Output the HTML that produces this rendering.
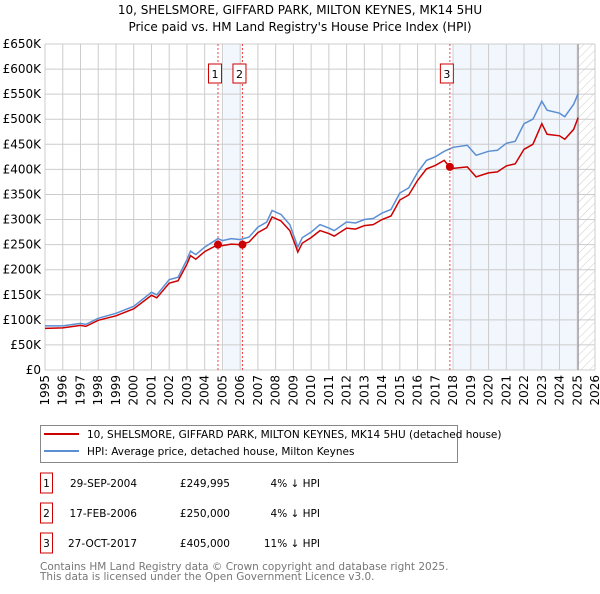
<!DOCTYPE html>
<html><head><meta charset="utf-8"><style>
body{margin:0;background:#fff;font-family:"DejaVu Sans","Liberation Sans",sans-serif;}
svg text{font-family:"DejaVu Sans","Liberation Sans",sans-serif;}
</style></head><body>
<svg id="chart" width="600" height="590" xmlns="http://www.w3.org/2000/svg">
<text x="300" y="14" text-anchor="middle" font-size="12">10, SHELSMORE, GIFFARD PARK, MILTON KEYNES, MK14 5HU</text>
<text x="300" y="31" text-anchor="middle" font-size="12">Price paid vs. HM Land Registry's House Price Index (HPI)</text>
<defs><pattern id="hatch" width="6" height="6" patternUnits="userSpaceOnUse" patternTransform="rotate(45)"><line x1="0" y1="0" x2="0" y2="6" stroke="#ccc" stroke-width="1"/></pattern></defs>
<g id="bg"></g><g id="grid"></g><g id="series"></g><g id="axes"></g>
<g>
<rect x="40.5" y="425.5" width="417" height="37" fill="#fff" stroke="#888"/>
<line x1="44" y1="434" x2="79" y2="434" stroke="#cc0000" stroke-width="2"/>
<text x="87" y="438" font-size="10.5">10, SHELSMORE, GIFFARD PARK, MILTON KEYNES, MK14 5HU (detached house)</text>
<line x1="44" y1="451" x2="79" y2="451" stroke="#5b8fd4" stroke-width="2"/>
<text x="87" y="455" font-size="10.5">HPI: Average price, detached house, Milton Keynes</text>
</g>
<g id="table" font-size="10.5"></g>
<text x="40" y="570" font-size="10.5" fill="#777">Contains HM Land Registry data © Crown copyright and database right 2025.</text>
<text x="40" y="580" font-size="10.5" fill="#777">This data is licensed under the Open Government Licence v3.0.</text>
</svg>
<script>
const hpiYears=[1995,1996,1997,1997.3,1998,1999,2000,2001,2001.3,2002,2002.5,2003,2003.2,2003.5,2004,2004.75,2005,2005.5,2006,2006.5,2007,2007.5,2007.8,2008.3,2008.8,2009.1,2009.25,2009.5,2010,2010.5,2011,2011.3,2012,2012.5,2013,2013.5,2014,2014.5,2015,2015.5,2016,2016.5,2017,2017.5,2018,2018.8,2019.3,2020,2020.5,2021,2021.5,2022,2022.5,2023,2023.3,2024,2024.3,2024.8,2025.05];
const hpiValues=[88000,88000,93000,91000,103000,113000,127000,155000,150000,180000,185000,220000,237000,230000,245000,262000,258000,262000,260000,265000,285000,295000,318000,310000,290000,260000,245000,264000,275000,290000,283000,278000,295000,293000,300000,302000,313000,320000,353000,363000,394000,418000,425000,436000,444000,448000,428000,436000,438000,452000,456000,491000,500000,536000,518000,512000,505000,530000,551000];
const paidYears=[1995,1996,1997,1997.3,1998,1999,2000,2001,2001.3,2002,2002.5,2003,2003.2,2003.5,2004,2004.75,2005,2005.5,2006,2006.5,2007,2007.5,2007.8,2008.3,2008.8,2009.1,2009.25,2009.5,2010,2010.5,2011,2011.3,2012,2012.5,2013,2013.5,2014,2014.5,2015,2015.5,2016,2016.5,2017,2017.5,2017.8,2018,2018.8,2019.3,2020,2020.5,2021,2021.5,2022,2022.5,2023,2023.3,2024,2024.3,2024.8,2025.05];
const paidValues=[83000,84000,89000,87000,99000,108000,122000,149000,144000,173000,178000,211000,228000,221000,236000,250000,248000,251000,250000,255000,274000,284000,305000,297000,278000,250000,235000,253000,264000,278000,272000,267000,283000,281000,288000,290000,300000,307000,339000,349000,378000,401000,408000,418000,405000,402000,405000,385000,393000,395000,407000,411000,440000,450000,491000,470000,467000,460000,480000,503000];
const saleYears=[2004.75,2006.13,2017.82];
const saleValues=[249995,250000,405000];
const saleDates=["29-SEP-2004","17-FEB-2006","27-OCT-2017"];
const salePrices=["£249,995","£250,000","£405,000"];
const saleDiffs=["4% ↓ HPI","4% ↓ HPI","11% ↓ HPI"];
const shadeStarts=[2005.05,2018.05];
const shadeEnds=[2006.13,2025.05];
const yTicks=[0,50000,100000,150000,200000,250000,300000,350000,400000,450000,500000,550000,600000,650000];
const yTickLabels=["£0","£50K","£100K","£150K","£200K","£250K","£300K","£350K","£400K","£450K","£500K","£550K","£600K","£650K"];
const xTicks=[1995,1996,1997,1998,1999,2000,2001,2002,2003,2004,2005,2006,2007,2008,2009,2010,2011,2012,2013,2014,2015,2016,2017,2018,2019,2020,2021,2022,2023,2024,2025,2026];
const dataEnd=2025.05;

const X0=45,X1=595,Y0=370,Y1=44;
const xs=y=>X0+(y-1995)/(2026-1995)*(X1-X0);
const ys=v=>Y0-v/650000*(Y0-Y1);
const NS="http://www.w3.org/2000/svg";
function mk(parent,tag,attrs){const e=document.createElementNS(NS,tag);for(const k in attrs)e.setAttribute(k,attrs[k]);document.getElementById(parent).appendChild(e);return e;}

shadeStarts.forEach((s,i)=>{
 let r=mk('bg','rect',{x:xs(s),y:Y1,width:xs(shadeEnds[i])-xs(s),height:Y0-Y1,fill:'#f2f6fd'});
 
 
});
let r=mk('bg','rect',{x:xs(dataEnd),y:Y1,width:X1-xs(dataEnd),height:Y0-Y1,fill:'url(#hatch)'});



yTicks.forEach((t,i)=>{
 let l=mk('grid','line',{x1:X0,x2:X1,y1:ys(t),y2:ys(t),stroke:'#ccc','stroke-width':1});
 
 
 let tx=mk('axes','text',{x:X0-4,y:ys(t)+4,'text-anchor':'end','font-size':'12'});
 tx.textContent=yTickLabels[i];
 
 
});
xTicks.forEach(t=>{
 let l=mk('grid','line',{x1:xs(t),x2:xs(t),y1:Y1,y2:Y0,stroke:'#ccc','stroke-width':1});
 
 
 let tx=mk('axes','text',{x:xs(t)+4,y:Y0+5,'text-anchor':'end','font-size':'12',transform:`rotate(-90 ${xs(t)+4} ${Y0+5})`});
 tx.textContent=t;
 
 
});
let el=mk('grid','line',{x1:xs(dataEnd),x2:xs(dataEnd),y1:Y1,y2:Y0,stroke:'#999','stroke-width':1.2});



function path(xsArr,vals){return xsArr.map((y,i)=>(i?'L':'M')+xs(y).toFixed(1)+','+ys(vals[i]).toFixed(1)).join('');}
let p=mk('series','path',{d:path(hpiYears,hpiValues),fill:'none',stroke:'#5b8fd4','stroke-width':1.5});


p=mk('series','path',{d:path(paidYears,paidValues),fill:'none',stroke:'#cc0000','stroke-width':1.5});



saleYears.forEach((y,i)=>{
 let v=mk('series','line',{x1:xs(y),x2:xs(y),y1:Y1,y2:Y0,stroke:'#ee4444','stroke-width':1,'stroke-dasharray':'2,2'});
 
 
 let c=mk('series','circle',{cx:xs(y),cy:ys(saleValues[i]),r:4,fill:'#cc0000'});
 
 
 let bx=xs(y)-3;
 let b=mk('series','rect',{x:bx-6.5,y:64,width:13,height:19,fill:'#fff',stroke:'#cc0000'});
 
 
 let t=mk('series','text',{x:bx,y:78,'text-anchor':'middle','font-size':'11'});
 t.textContent=String(i+1);
 
 
});

saleDates.forEach((d,i)=>{
 const cy=483+i*30;
 let b=mk('table','rect',{x:40.5,y:cy-10,width:12,height:20,fill:'#fff',stroke:'#cc0000'});
 
 
 let t=mk('table','text',{x:46.5,y:cy+4,'text-anchor':'middle'});t.textContent=String(i+1);
 
 
 t=mk('table','text',{x:137,y:cy+4,'text-anchor':'end'});t.textContent=d;
 
 
 t=mk('table','text',{x:230,y:cy+4,'text-anchor':'end'});t.textContent=salePrices[i];
 
 
 t=mk('table','text',{x:320,y:cy+4,'text-anchor':'end'});t.textContent=saleDiffs[i];
 
 
});
</script>
</body></html>
